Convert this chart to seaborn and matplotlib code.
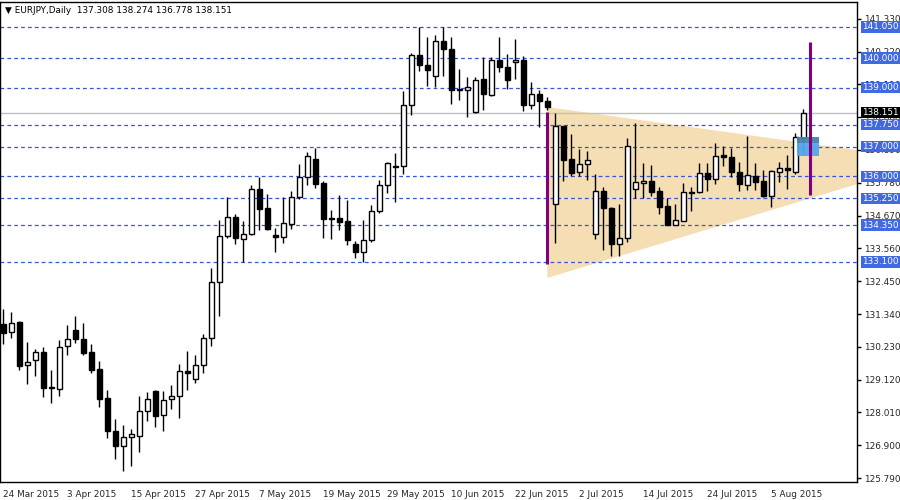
import numpy as np
import matplotlib
matplotlib.use("Agg")
import matplotlib.pyplot as plt
import seaborn as sns
from matplotlib.patches import Rectangle, Polygon

sns.set_style("white")
plt.rcParams['font.family'] = ['DejaVu Sans']

opens = [131.00,130.73,131.07,129.62,129.78,130.05,128.87,128.80,130.26,130.80,130.50,130.05,129.48,128.50,127.38,126.88,127.18,127.21,128.06,128.74,
         127.92,128.47,128.57,129.41,129.14,129.62,130.53,132.42,133.98,134.62,133.88,134.05,135.57,134.93,134.01,133.95,134.39,135.30,135.98,136.58,
         135.77,134.59,134.59,134.49,133.71,133.44,133.84,134.82,135.70,136.35,136.35,138.41,140.10,139.76,139.39,140.58,140.31,138.95,138.92,138.17,
         139.29,138.75,139.93,139.70,139.87,139.93,138.41,138.78,138.55,135.06,137.70,136.58,136.14,136.42,134.05,135.50,134.93,133.71,133.91,135.57,
         135.77,135.84,135.50,134.99,134.35,134.49,135.47,135.47,136.11,135.91,136.72,136.65,136.14,135.70,136.01,135.84,135.33,136.14,136.28,136.14,137.308]
highs = [131.51,131.41,131.10,130.39,130.16,130.22,129.45,130.46,130.97,131.27,131.04,130.33,129.75,128.77,127.79,127.59,127.45,128.57,128.70,128.77,
         128.74,128.94,129.65,130.09,129.95,130.66,132.90,134.52,135.30,134.72,134.49,135.70,135.98,135.40,134.25,135.30,135.50,136.42,136.82,136.96,
         135.84,134.86,135.36,135.20,133.81,134.52,135.03,135.87,136.48,136.79,138.88,140.17,141.05,140.71,140.78,141.05,140.71,139.63,139.36,139.36,
         140.03,140.03,140.71,140.14,140.64,140.07,139.19,138.92,138.68,138.14,137.70,137.43,136.92,136.85,136.08,135.64,134.96,135.06,137.29,137.80,
         136.45,136.38,135.64,135.26,135.06,135.77,135.64,136.45,136.45,137.13,137.02,136.96,136.48,137.36,136.45,136.21,136.21,136.48,136.72,137.46,138.274]
lows = [130.33,130.53,129.45,128.97,129.24,128.53,128.33,128.57,129.95,130.36,129.95,129.34,128.19,127.15,126.44,126.03,126.20,126.67,127.72,127.52,
        127.38,128.13,127.82,128.77,129.01,129.34,130.26,131.27,133.91,133.71,133.10,134.01,134.18,134.18,133.44,133.74,134.22,135.23,135.70,135.60,
        133.91,133.88,134.18,133.67,133.24,133.10,133.78,134.76,135.43,135.13,136.08,138.07,139.56,139.05,139.02,139.39,138.45,138.58,138.00,138.14,
        138.24,138.71,139.53,138.95,139.29,138.21,138.28,137.67,138.24,133.74,135.84,136.01,136.01,135.87,133.88,133.50,133.30,133.30,133.78,135.26,
        135.26,135.33,134.72,134.35,134.35,134.49,134.82,135.43,135.50,135.74,136.35,135.98,135.50,135.54,135.54,135.30,134.96,135.80,135.57,136.08,136.778]
closes = [130.70,131.04,129.58,129.72,130.05,128.84,128.85,130.22,130.50,130.50,130.02,129.45,128.47,127.38,126.88,127.18,127.28,128.06,128.47,127.89,
          128.43,128.57,129.41,129.34,129.62,130.53,132.42,133.98,134.62,133.91,134.05,135.57,134.89,134.22,133.95,134.42,135.30,135.98,136.69,135.74,
          134.55,134.57,134.45,133.84,133.44,133.84,134.82,135.70,136.45,136.31,138.41,140.10,139.76,139.60,140.58,140.31,138.92,138.92,139.02,139.26,
          138.78,139.93,139.70,139.26,139.93,138.41,138.78,138.55,138.34,137.70,136.55,136.11,136.42,136.55,135.50,134.93,133.71,133.91,137.02,135.80,
          135.84,135.47,134.96,134.35,134.52,135.47,135.45,136.11,135.91,136.69,136.65,136.14,135.74,136.04,135.80,135.33,136.18,136.28,136.21,137.33,138.151]

date_labels = ["24 Mar 2015","3 Apr 2015","15 Apr 2015","27 Apr 2015","7 May 2015","19 May 2015","29 May 2015",
               "10 Jun 2015","22 Jun 2015","2 Jul 2015","14 Jul 2015","24 Jul 2015","5 Aug 2015"]
level_lines = [141.05,140.00,139.00,137.75,137.00,136.00,135.25,134.35,133.10]
axis_ticks = [141.330,140.220,139.110,138.000,136.890,135.780,134.670,133.560,132.450,131.340,130.230,129.120,128.010,126.900,125.790]
last_price = 138.151
tri_x = [68, 68, 116.3]
tri_y = [138.34, 132.56, 136.52]
vline1 = (68, 138.17, 133.03)
vline2 = (100.8, 140.53, 135.37)
box_x = (99.2, 101.96)
box_y = (136.69, 137.13, 137.33)

FS = 6.4
fig = plt.figure(figsize=(9, 5), dpi=100)
ax = fig.add_axes([0.0, 0.036, 857/900, 0.96])
n = len(opens)
idx = np.arange(n)
ax.set_xlim(-0.41, 106.7)
ax.set_ylim(125.657, 141.895)

ax.add_patch(Polygon(list(zip(tri_x, tri_y)), closed=True, facecolor='#f5deb3', edgecolor='none', zorder=1))
for lv in level_lines:
    ax.axhline(lv, color='#3355dd', lw=0.9, ls=(0, (3, 2.5)), zorder=2)
ax.axhline(last_price, color='#c0c0c0', lw=1, zorder=2)

ax.vlines(idx, lows, highs, color='black', lw=1, zorder=3)
o = np.array(opens); c = np.array(closes)
up = c >= o
bottoms = np.minimum(o, c)
heights = np.maximum(np.abs(c - o), 0.03)
ax.bar(idx[up], heights[up], bottom=bottoms[up], width=0.6, color='white', edgecolor='black', lw=1, zorder=4)
ax.bar(idx[~up], heights[~up], bottom=bottoms[~up], width=0.6, color='black', edgecolor='black', lw=1, zorder=4)

ax.add_patch(Rectangle((box_x[0], box_y[0]), box_x[1]-box_x[0], box_y[1]-box_y[0], facecolor='#55a5ee', edgecolor='none', alpha=0.95, zorder=5))
ax.add_patch(Rectangle((box_x[0], box_y[1]), box_x[1]-box_x[0], box_y[2]-box_y[1], facecolor='#4682b4', edgecolor='none', alpha=0.95, zorder=5))
for xv, y1, y0 in (vline1, vline2):
    ax.vlines(xv, y0, y1, color='#800080', lw=2.2, zorder=6)

ax.yaxis.tick_right()
ax.set_yticks(axis_ticks)
ax.set_yticklabels([f"{t:.3f}" for t in axis_ticks], fontsize=FS)
ax.tick_params(axis='y', length=3, width=1, pad=2, color='black')
ax.set_xticks(np.arange(0, 8*len(date_labels), 8))
ax.set_xticklabels(date_labels, fontsize=FS, ha='left')
ax.tick_params(axis='x', length=4, width=1, pad=2, color='black')
for s in ax.spines.values():
    s.set_color('black'); s.set_linewidth(1)

for lv in level_lines:
    ax.text(1.006, lv, f"{lv:.3f}", transform=ax.get_yaxis_transform(), fontsize=FS, color='white',
            va='center', ha='left', bbox=dict(boxstyle='square,pad=0.12', fc='#4169e1', ec='none'), zorder=10, clip_on=False)
ax.text(1.006, last_price, f"{last_price:.3f}", transform=ax.get_yaxis_transform(), fontsize=FS, color='white',
        va='center', ha='left', bbox=dict(boxstyle='square,pad=0.12', fc='black', ec='none'), zorder=11, clip_on=False)

ax.text(0.006, 0.982, "▼ EURJPY,Daily  137.308 138.274 136.778 138.151", transform=ax.transAxes,
        fontsize=FS, va='center', ha='left', color='black')

fig.savefig("out.png", dpi=100, facecolor='white')
